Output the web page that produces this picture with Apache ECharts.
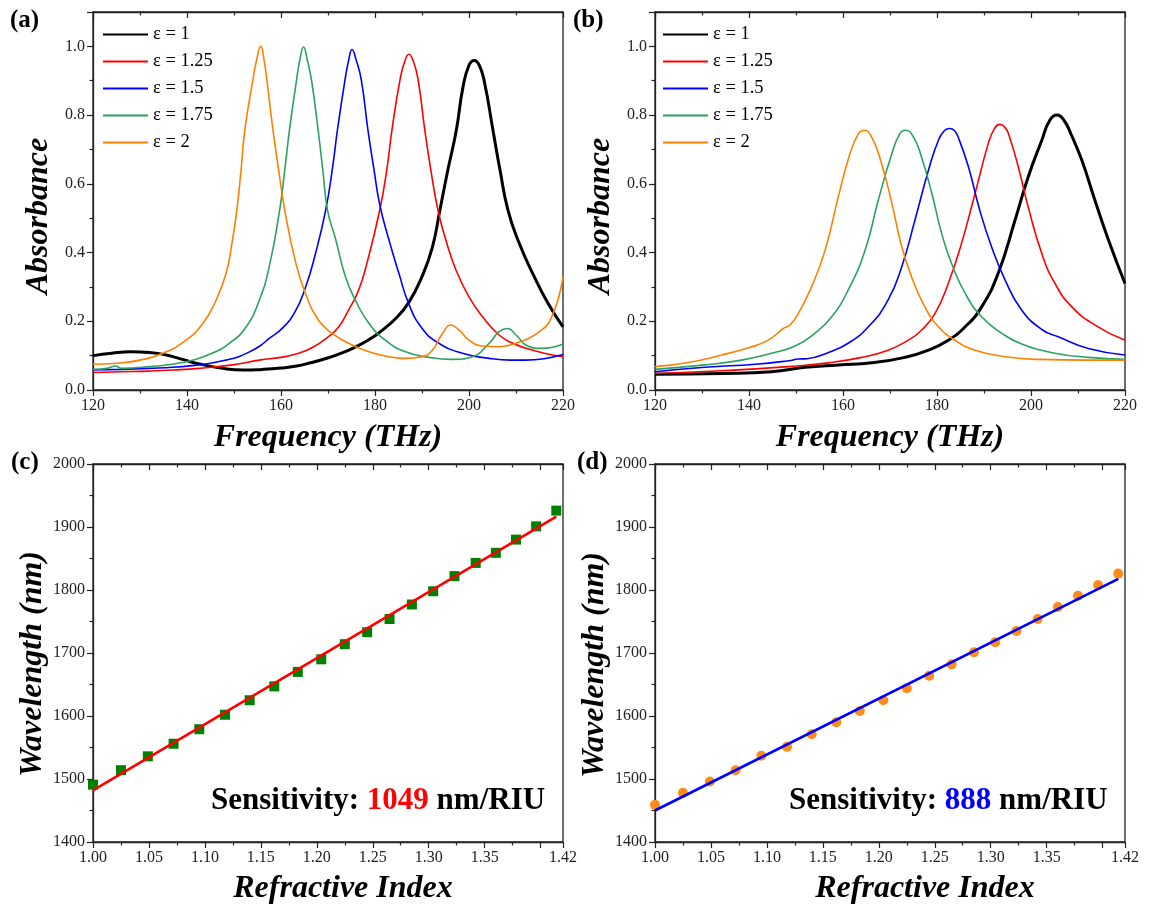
<!DOCTYPE html>
<html>
<head>
<meta charset="utf-8">
<title>Absorbance spectra and refractive-index sensitivity</title>
<script src="https://cdn.jsdelivr.net/npm/echarts@6/dist/echarts.min.js"></script>
<style>
  html, body { margin: 0; padding: 0; background: #fff; }
  #chart { width: 1165px; height: 906px; }
</style>
</head>
<body>
<div id="chart"></div>
<script>
// ---------- data ----------
const epsNames = ['ε = 1', 'ε = 1.25', 'ε = 1.5', 'ε = 1.75', 'ε = 2'];
const epsColors = ['#000000', '#ff0000', '#0000ff', '#2ca25f', '#ff8000'];

// Panel (a): absorbance vs frequency (THz)
const specA_eps1 = [[120,0.100],[124,0.107],[128,0.111],[132,0.109],[135.6,0.102],[139,0.089],[142.6,0.076],[147.6,0.063],[152,0.058],[156,0.060],[160,0.064],[163,0.069],[166.5,0.080],[170.1,0.094],[173,0.108],[175.8,0.125],[178.5,0.145],[180.8,0.166],[184.4,0.208],[187.2,0.255],[190,0.330],[192.2,0.415],[193.8,0.523],[195.5,0.640],[197.3,0.756],[198.7,0.880],[200,0.945],[201.1,0.959],[202.2,0.945],[203.3,0.895],[205.1,0.756],[206.6,0.640],[208.3,0.523],[210.6,0.430],[213.7,0.335],[216.9,0.250],[220,0.184]];
const specA_eps125 = [[120,0.051],[126,0.053],[132,0.055],[137,0.058],[142.6,0.063],[149.7,0.073],[155.4,0.087],[160,0.095],[163,0.104],[166.6,0.123],[170.1,0.155],[172.3,0.184],[174.4,0.233],[176.5,0.290],[178.3,0.370],[181,0.523],[182.5,0.640],[183.6,0.756],[185.3,0.901],[186.3,0.955],[187.2,0.977],[188.2,0.955],[189.2,0.901],[190.6,0.756],[192,0.630],[193.4,0.523],[195,0.440],[197.2,0.350],[200,0.271],[202.9,0.213],[206.4,0.160],[209,0.138],[212,0.122],[216,0.107],[220,0.097]];
const specA_eps15 = [[120,0.058],[126,0.060],[132,0.063],[137,0.066],[141.2,0.071],[145,0.078],[148.3,0.087],[151,0.097],[153.3,0.111],[155.5,0.128],[157.5,0.150],[160.3,0.180],[163,0.228],[165.2,0.298],[167.3,0.395],[169.5,0.523],[171,0.650],[172,0.756],[173.6,0.901],[174.4,0.960],[175.1,0.991],[176,0.960],[177.1,0.901],[178.5,0.756],[179.8,0.640],[181,0.540],[182.9,0.440],[185.1,0.339],[187.2,0.250],[190,0.180],[193.6,0.136],[198.6,0.107],[204.3,0.092],[208.9,0.087],[212,0.087],[216,0.091],[220,0.103]];
const specA_eps175 = [[120,0.060],[123,0.063],[124.8,0.070],[126,0.063],[132,0.068],[139,0.080],[144.8,0.104],[149,0.136],[152.6,0.184],[155.4,0.262],[157.5,0.359],[159.7,0.523],[160.8,0.640],[161.8,0.756],[163.3,0.901],[164,0.960],[164.8,0.998],[165.6,0.960],[166.5,0.901],[167.9,0.756],[168.9,0.640],[169.9,0.523],[171.6,0.440],[173.7,0.330],[175.8,0.262],[178.7,0.194],[182.2,0.145],[186.5,0.111],[191.5,0.095],[196.4,0.089],[200.7,0.097],[204.3,0.136],[206.4,0.170],[208.2,0.179],[210,0.160],[212.5,0.128],[215.3,0.121],[218,0.125],[220,0.134]];
const specA_eps2 = [[120,0.075],[125,0.078],[130,0.087],[134.9,0.107],[139.8,0.145],[143.4,0.194],[146.2,0.262],[148.3,0.339],[149.6,0.430],[150.6,0.523],[151.5,0.640],[152.3,0.756],[154,0.901],[154.8,0.960],[155.7,1.000],[156.4,0.960],[157,0.901],[158.3,0.756],[159.5,0.640],[160.8,0.523],[163,0.378],[165.2,0.281],[168,0.203],[170.9,0.165],[174.4,0.136],[178.7,0.111],[183,0.097],[186.5,0.092],[190,0.097],[192.2,0.116],[194.4,0.165],[196.1,0.189],[197.9,0.174],[200,0.145],[202.9,0.128],[206.4,0.126],[210,0.136],[214.5,0.165],[217.6,0.213],[220,0.330]];

// Panel (b): absorbance vs frequency (THz)
const specB_eps1 = [[120,0.046],[134.2,0.048],[144.8,0.053],[151.9,0.066],[159,0.073],[166.1,0.079],[173.2,0.095],[178.2,0.116],[182.4,0.145],[186,0.184],[189.5,0.242],[193,0.339],[196.6,0.494],[199.4,0.620],[202.3,0.727],[204,0.785],[205.5,0.800],[207,0.785],[208.5,0.745],[210.8,0.669],[213.6,0.552],[216.5,0.436],[220,0.310]];
const specB_eps125 = [[120,0.048],[134.2,0.056],[148.4,0.068],[156.9,0.079],[164,0.095],[169.6,0.116],[173.9,0.145],[176.7,0.174],[179.6,0.223],[182.4,0.310],[185.2,0.426],[188.1,0.572],[190.9,0.717],[192.2,0.760],[193.4,0.773],[194.4,0.765],[195.2,0.746],[197.3,0.649],[199.4,0.533],[202.3,0.397],[205.1,0.310],[208.7,0.242],[213.6,0.189],[220,0.145]];
const specB_eps15 = [[120,0.053],[130.6,0.066],[141.3,0.075],[148.4,0.085],[150.5,0.090],[152.3,0.091],[156.9,0.109],[161.1,0.136],[165.4,0.184],[169.6,0.262],[172.5,0.359],[175.3,0.494],[178.2,0.640],[180.3,0.727],[181.6,0.755],[182.7,0.761],[183.7,0.755],[184.5,0.736],[186.7,0.649],[189.1,0.523],[191.6,0.417],[194.5,0.320],[198,0.233],[202.3,0.176],[205.8,0.155],[212.2,0.121],[220,0.102]];
const specB_eps175 = [[120,0.060],[130.6,0.073],[138.4,0.087],[144.8,0.107],[149.8,0.128],[154,0.165],[157.6,0.213],[161.1,0.291],[164.7,0.407],[167.5,0.552],[170.4,0.688],[172.1,0.746],[173.3,0.756],[175,0.736],[176.7,0.678],[178.9,0.572],[181,0.455],[183.1,0.368],[186,0.281],[189.5,0.213],[193.8,0.165],[198,0.134],[205.1,0.107],[212.2,0.095],[220,0.089]];
const specB_eps2 = [[120,0.068],[127.1,0.080],[134.2,0.102],[139.9,0.123],[144.1,0.145],[147.3,0.179],[148.7,0.189],[150.5,0.223],[153.3,0.300],[156.2,0.407],[159,0.562],[161.5,0.688],[163.3,0.746],[164.5,0.756],[166.1,0.736],[168.2,0.659],[170.4,0.543],[172.5,0.417],[174.6,0.329],[177.4,0.242],[180.3,0.184],[183.8,0.145],[188.1,0.116],[194.5,0.097],[201.6,0.089],[212.2,0.087],[220,0.087]];

// Panels (c) and (d): resonance wavelength vs refractive index
const refractiveIndex = [1.000,1.025,1.049,1.072,1.095,1.118,1.140,1.162,1.183,1.204,1.225,1.245,1.265,1.285,1.304,1.323,1.342,1.360,1.378,1.396,1.414];
const wavelengthC = [1491,1514,1536,1556,1579,1602,1625,1647,1670,1690,1714,1733,1754,1777,1798,1822,1843,1859,1880,1901,1926];
const wavelengthD = [1459,1478,1496,1514,1537,1551,1571,1590,1608,1625,1644,1664,1682,1701,1717,1735,1754,1773,1791,1808,1826];

// Linear fits: sensitivity (nm/RIU) and wavelength at n = 1
const sensitivityC = 1049, interceptC = 1482;
const sensitivityD = 888,  interceptD = 1450;

// ---------- styling helpers ----------
const SERIF = 'Liberation Serif';
const AXIS_COLOR = '#222';

const grids = [
  { left: 93,  top: 12,  width: 470, height: 378 },
  { left: 655, top: 12,  width: 470, height: 378 },
  { left: 93,  top: 464, width: 470, height: 379 },
  { left: 655, top: 464, width: 470, height: 379 }
].map(g => Object.assign(g, { show: true, borderColor: AXIS_COLOR, borderWidth: 1.3, backgroundColor: 'transparent' }));

const axisNameStyle = (padding) => ({
  fontFamily: SERIF, fontSize: 32, fontWeight: 'bold', fontStyle: 'italic', color: '#000', padding
});
const tickLabelStyle = { fontFamily: SERIF, fontSize: 16, color: '#222', margin: 8 };

function bottomAxis(gridIndex, min, max, interval, name, digits, namePad, nameGap) {
  return {
    type: 'value', gridIndex, position: 'bottom', min, max, interval,
    name, nameLocation: 'middle', nameGap, nameTextStyle: axisNameStyle(namePad),
    axisLine: { show: true, lineStyle: { color: AXIS_COLOR, width: 1.3 } },
    axisTick: { show: true, inside: false, length: 6, lineStyle: { color: AXIS_COLOR, width: 1.2 } },
    minorTick: { show: true, splitNumber: 2, length: 3.5, lineStyle: { color: AXIS_COLOR, width: 1.2 } },
    axisLabel: Object.assign({ formatter: v => v.toFixed(digits), showMaxLabel: true }, tickLabelStyle),
    splitLine: { show: false }
  };
}
function topAxis(gridIndex, min, max, interval) {
  return {
    type: 'value', gridIndex, position: 'top', min, max, interval,
    axisLine: { show: true, lineStyle: { color: AXIS_COLOR, width: 1.3 } },
    axisTick: { show: true, inside: true, length: 6, lineStyle: { color: AXIS_COLOR, width: 1.2 } },
    minorTick: { show: true, splitNumber: 2, length: 3.5, lineStyle: { color: AXIS_COLOR, width: 1.2 } },
    axisLabel: { show: false },
    splitLine: { show: false }
  };
}
function leftAxis(gridIndex, min, max, interval, name, digits, showMax, namePad) {
  return {
    type: 'value', gridIndex, position: 'left', min, max, interval,
    name, nameLocation: 'middle', nameGap: 38, nameRotate: 90, nameTextStyle: axisNameStyle(namePad),
    axisLine: { show: true, lineStyle: { color: AXIS_COLOR, width: 1.3 } },
    axisTick: { show: true, inside: false, length: 6, lineStyle: { color: AXIS_COLOR, width: 1.2 } },
    minorTick: { show: true, splitNumber: 2, length: 3.5, lineStyle: { color: AXIS_COLOR, width: 1.2 } },
    axisLabel: Object.assign({ formatter: v => v.toFixed(digits), showMaxLabel: showMax }, tickLabelStyle),
    splitLine: { show: false }
  };
}

const xAxes = [
  bottomAxis(0, 120, 220, 20, 'Frequency (THz)', 0, [0, 0, 0, 0], 32), topAxis(0, 120, 220, 20),
  bottomAxis(1, 120, 220, 20, 'Frequency (THz)', 0, [0, 0, 0, 0], 32), topAxis(1, 120, 220, 20),
  bottomAxis(2, 1.00, 1.42, 0.05, 'Refractive Index', 2, [0, 0, 0, 30], 31), topAxis(2, 1.00, 1.42, 0.05),
  bottomAxis(3, 1.00, 1.42, 0.05, 'Refractive Index', 2, [0, 0, 0, 70], 31), topAxis(3, 1.00, 1.42, 0.05)
];
const yAxes = [
  leftAxis(0, 0, 1.1, 0.2, 'Absorbance', 1, false, [0, 30, 0, 0]),
  leftAxis(1, 0, 1.1, 0.2, 'Absorbance', 1, false, [0, 30, 0, 0]),
  leftAxis(2, 1400, 2000, 100, 'Wavelength (nm)', 0, true, [0, 22, 0, 0]),
  leftAxis(3, 1400, 2000, 100, 'Wavelength (nm)', 0, true, [0, 24, 0, 0])
];

// ---------- series ----------
const spectraA = [specA_eps1, specA_eps125, specA_eps15, specA_eps175, specA_eps2];
const spectraB = [specB_eps1, specB_eps125, specB_eps15, specB_eps175, specB_eps2];

function spectrumSeries(data, i, xIdx, yIdx) {
  return {
    type: 'line', name: epsNames[i], data, xAxisIndex: xIdx, yAxisIndex: yIdx,
    symbol: 'none', smooth: 0.5, clip: true,
    lineStyle: { color: epsColors[i], width: i === 0 ? 3 : 1.6 },
    itemStyle: { color: epsColors[i] },
    emphasis: { disabled: true }
  };
}

const series = [];
spectraA.forEach((d, i) => series.push(spectrumSeries(d, i, 0, 0)));
spectraB.forEach((d, i) => series.push(spectrumSeries(d, i, 2, 1)));

const pointsC = refractiveIndex.map((n, k) => [n, wavelengthC[k]]);
const pointsD = refractiveIndex.map((n, k) => [n, wavelengthD[k]]);
const nFirst = refractiveIndex[0], nLast = refractiveIndex[refractiveIndex.length - 1];
const fitLine = (s, b) => [[nFirst, b + s * (nFirst - 1)], [nLast, b + s * (nLast - 1)]];

series.push({
  type: 'scatter', name: 'points-c', data: pointsC, xAxisIndex: 4, yAxisIndex: 2,
  symbol: 'rect', symbolSize: 10, itemStyle: { color: '#008000', opacity: 1 }, emphasis: { disabled: true }
});
series.push({
  type: 'line', name: 'fit-c', data: fitLine(sensitivityC, interceptC), xAxisIndex: 4, yAxisIndex: 2,
  symbol: 'none', lineStyle: { color: '#ff0000', width: 2.6 }, emphasis: { disabled: true }
});
series.push({
  type: 'scatter', name: 'points-d', data: pointsD, xAxisIndex: 6, yAxisIndex: 3,
  symbol: 'circle', symbolSize: 10, itemStyle: { color: '#ff8c1a', opacity: 1 }, emphasis: { disabled: true }
});
series.push({
  type: 'line', name: 'fit-d', data: fitLine(sensitivityD, interceptD), xAxisIndex: 6, yAxisIndex: 3,
  symbol: 'none', lineStyle: { color: '#0000ff', width: 2.6 }, emphasis: { disabled: true }
});

// ---------- text: panel labels and sensitivity ----------
const panelLabel = (text, left, top) => ({
  text, left, top, padding: 0,
  textStyle: { fontFamily: SERIF, fontSize: 25, fontWeight: 'bold', color: '#000', lineHeight: 28 }
});
const sensitivityTitle = (value, color, left) => ({
  text: `{k|Sensitivity: }{v|${value}}{k| nm/RIU}`,
  left, top: 784, padding: 0,
  textStyle: {
    rich: {
      k: { fontFamily: SERIF, fontSize: 31, fontWeight: 'bold', color: '#000', lineHeight: 34 },
      v: { fontFamily: SERIF, fontSize: 31, fontWeight: 'bold', color, lineHeight: 34 }
    }
  }
});

const legendCommon = {
  orient: 'vertical', itemWidth: 45, itemHeight: 14, itemGap: 8, padding: 0,
  data: epsNames, selectedMode: false,
  itemStyle: { opacity: 0 },
  textStyle: { fontFamily: SERIF, fontSize: 18.5, color: '#000', lineHeight: 18 }
};

const option = {
  animation: false,
  backgroundColor: '#ffffff',
  title: [
    panelLabel('(a)', 10, 7),
    panelLabel('(b)', 573, 7),
    panelLabel('(c)', 11, 449),
    panelLabel('(d)', 577, 449),
    sensitivityTitle(sensitivityC, '#ff0000', 211),
    sensitivityTitle(sensitivityD, '#0000ff', 789)
  ],
  legend: [
    Object.assign({ left: 102, top: 25 }, legendCommon),
    Object.assign({ left: 662, top: 25 }, legendCommon)
  ],
  grid: grids,
  xAxis: xAxes,
  yAxis: yAxes,
  series
};

const chart = echarts.init(document.getElementById('chart'), null, { renderer: 'canvas' });
chart.setOption(option);
</script>
</body>
</html>
